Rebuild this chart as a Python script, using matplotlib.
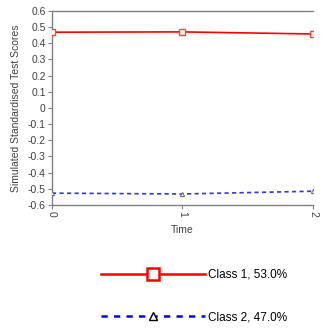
import matplotlib
matplotlib.use("Agg")
import matplotlib.pyplot as plt
from matplotlib.lines import Line2D

plt.rcParams['font.family'] = ['Liberation Sans', 'DejaVu Sans']

time = [0, 1, 2]
class1 = [0.468, 0.470, 0.457]
class2 = [-0.527, -0.532, -0.515]
labels = ["Class 1, 53.0%", "Class 2, 47.0%"]
yticks = [0.6, 0.5, 0.4, 0.3, 0.2, 0.1, 0, -0.1, -0.2, -0.3, -0.4, -0.5, -0.6]
ytick_labels = ["0.6", "0.5", "0.4", "0.3", "0.2", "0.1", "0", "-0.1", "-0.2",
                "-0.3", "-0.4", "-0.5", "-0.6"]

fig = plt.figure(figsize=(3.23, 3.29), dpi=100)
ax = fig.add_axes([0.161, 0.377, 0.808, 0.590])

ax.plot(time, class1, color='#ff0000', lw=1.2, marker='s', ms=4.0,
        mfc='white', mec='#ff4040', mew=1.0, zorder=3)
ax.plot(time, class2, color='#3030ff', lw=1.2, ls=(0, (2.5, 2)), marker='^',
        ms=3.0, mfc='white', mec='#707070', mew=0.8, zorder=3)

ax.set_xlim(0, 2)
ax.set_ylim(-0.6, 0.6)
ax.set_yticks(yticks)
ax.set_yticklabels(ytick_labels)
ax.set_xticks(time)
ax.set_xticklabels([str(t) for t in time], rotation=-90)

for side in ['left', 'bottom', 'top']:
    ax.spines[side].set_color('#808080')
    ax.spines[side].set_linewidth(1.0)
ax.spines['right'].set_visible(False)
ax.tick_params(axis='both', colors='#808080', length=3, width=0.8,
               labelsize=7.5, labelcolor='#404040', pad=1.5)

ax.set_ylabel("Simulated Standardised Test Scores", fontsize=7.5, color='#404040',
              labelpad=5)
ax.set_xlabel("Time", fontsize=7.5, color='#404040', labelpad=6)

handles = [
    Line2D([], [], color='#ff0000', lw=1.8, marker='s', ms=8, mfc='white',
           mec='#ff0000', mew=1.8),
    Line2D([], [], color='#0000ff', lw=1.8, ls=(0, (2.5, 2.5)), marker='^', ms=6,
           mfc='white', mec='black', mew=1.0),
]
fig.legend(handles, labels, loc='upper left', bbox_to_anchor=(0.312, 0.183),
           frameon=False, fontsize=8.5, handlelength=8.8, handletextpad=0.3,
           labelspacing=2.6, borderpad=0, borderaxespad=0)

fig.savefig("out.png", dpi=100)
